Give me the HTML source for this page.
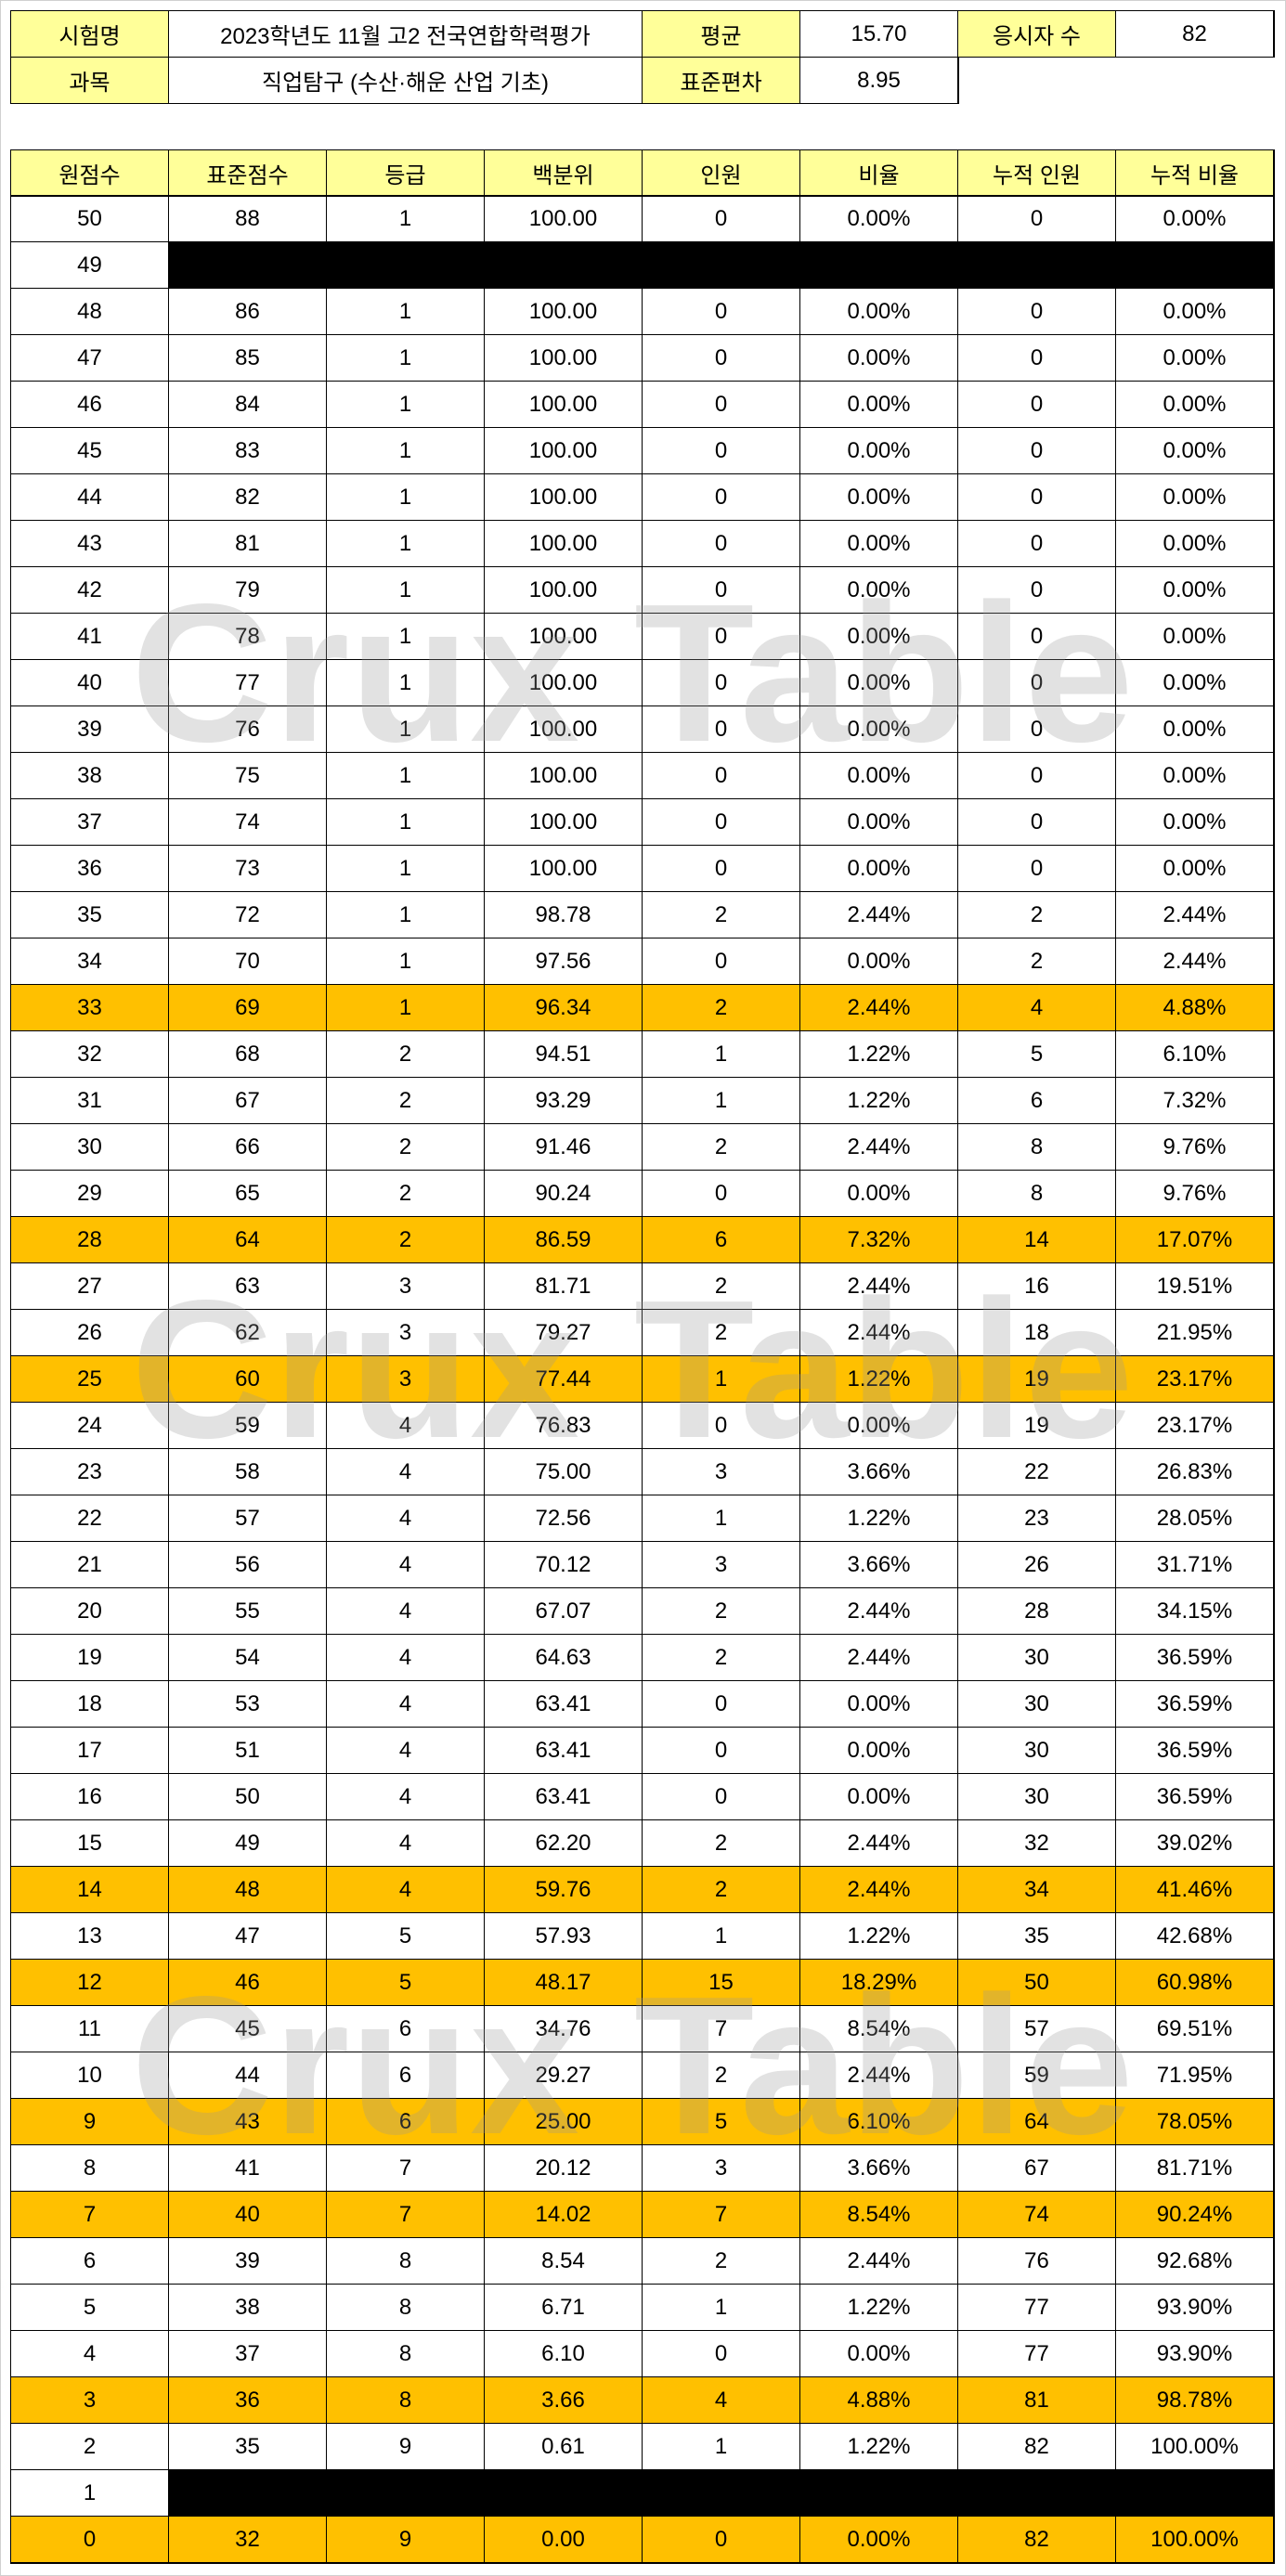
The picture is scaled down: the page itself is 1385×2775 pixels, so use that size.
<!DOCTYPE html>
<html><head><meta charset="utf-8">
<style>
html,body{margin:0;padding:0}
body{width:1385px;height:2775px;position:relative;background:#fff;font-family:"Liberation Sans","Noto Sans CJK KR",sans-serif;overflow:hidden}
#frame{position:absolute;left:0;top:0;width:1383px;height:2773px;border:1px solid #d0d0d0}
.c{position:absolute;box-sizing:border-box;border-right:1px solid #000;border-bottom:1px solid #000;display:flex;align-items:center;justify-content:center;font-size:24px;color:#000}
.y{background:#ffff99}
.o{background:#ffc000}
.k{background:#000}
.box{position:absolute;border:1px solid #000;box-sizing:border-box;pointer-events:none}
.wm{position:absolute;left:141px;font-family:"Liberation Sans",sans-serif;font-weight:bold;font-size:212px;line-height:1;color:rgba(150,150,150,0.28);pointer-events:none;white-space:nowrap}
</style></head>
<body>
<div id="frame"></div>
<div id="info"></div>
<div id="main"></div>
<div class="wm" style="top:619px">Crux Table</div>
<div class="wm" style="top:1369px">Crux Table</div>
<div class="wm" style="top:2119px">Crux Table</div>
<script>
const headers=["원점수","표준점수","등급","백분위","인원","비율","누적 인원","누적 비율"];
const rawScores=[50,49,48,47,46,45,44,43,42,41,40,39,38,37,36,35,34,33,32,31,30,29,28,27,26,25,24,23,22,21,20,19,18,17,16,15,14,13,12,11,10,9,8,7,6,5,4,3,2,1,0];
const stdScores=[88,null,86,85,84,83,82,81,79,78,77,76,75,74,73,72,70,69,68,67,66,65,64,63,62,60,59,58,57,56,55,54,53,51,50,49,48,47,46,45,44,43,41,40,39,38,37,36,35,null,32];
const grades=[1,null,1,1,1,1,1,1,1,1,1,1,1,1,1,1,1,1,2,2,2,2,2,3,3,3,4,4,4,4,4,4,4,4,4,4,4,5,5,6,6,6,7,7,8,8,8,8,9,null,9];
const percentiles=["100.00",null,"100.00","100.00","100.00","100.00","100.00","100.00","100.00","100.00","100.00","100.00","100.00","100.00","100.00","98.78","97.56","96.34","94.51","93.29","91.46","90.24","86.59","81.71","79.27","77.44","76.83","75.00","72.56","70.12","67.07","64.63","63.41","63.41","63.41","62.20","59.76","57.93","48.17","34.76","29.27","25.00","20.12","14.02","8.54","6.71","6.10","3.66","0.61",null,"0.00"];
const counts=[0,null,0,0,0,0,0,0,0,0,0,0,0,0,0,2,0,2,1,1,2,0,6,2,2,1,0,3,1,3,2,2,0,0,0,2,2,1,15,7,2,5,3,7,2,1,0,4,1,null,0];
const ratios=["0.00%",null,"0.00%","0.00%","0.00%","0.00%","0.00%","0.00%","0.00%","0.00%","0.00%","0.00%","0.00%","0.00%","0.00%","2.44%","0.00%","2.44%","1.22%","1.22%","2.44%","0.00%","7.32%","2.44%","2.44%","1.22%","0.00%","3.66%","1.22%","3.66%","2.44%","2.44%","0.00%","0.00%","0.00%","2.44%","2.44%","1.22%","18.29%","8.54%","2.44%","6.10%","3.66%","8.54%","2.44%","1.22%","0.00%","4.88%","1.22%",null,"0.00%"];
const cumCounts=[0,null,0,0,0,0,0,0,0,0,0,0,0,0,0,2,2,4,5,6,8,8,14,16,18,19,19,22,23,26,28,30,30,30,30,32,34,35,50,57,59,64,67,74,76,77,77,81,82,null,82];
const cumRatios=["0.00%",null,"0.00%","0.00%","0.00%","0.00%","0.00%","0.00%","0.00%","0.00%","0.00%","0.00%","0.00%","0.00%","0.00%","2.44%","2.44%","4.88%","6.10%","7.32%","9.76%","9.76%","17.07%","19.51%","21.95%","23.17%","23.17%","26.83%","28.05%","31.71%","34.15%","36.59%","36.59%","36.59%","36.59%","39.02%","41.46%","42.68%","60.98%","69.51%","71.95%","78.05%","81.71%","90.24%","92.68%","93.90%","93.90%","98.78%","100.00%",null,"100.00%"];
const highlighted=[33,28,25,14,12,9,7,3,0];

const X0=12,CW=170,ROWH=50,TOP=211;
function cell(parent,x,y,w,h,text,cls){
  const d=document.createElement('div');
  d.className='c '+(cls||'');
  d.style.left=x+'px';d.style.top=y+'px';d.style.width=w+'px';d.style.height=h+'px';
  d.textContent=text;
  parent.appendChild(d);
  return d;
}
const info=document.getElementById('info');
let e;
e=cell(info,12,12,170,50,'시험명','y');


e=cell(info,182,12,510,50,'2023학년도 11월 고2 전국연합학력평가','');


e=cell(info,692,12,170,50,'평균','y');


e=cell(info,862,12,170,50,'15.70','');


e=cell(info,1032,12,170,50,'응시자 수','y');


e=cell(info,1202,12,170,50,'82','');


e=cell(info,12,62,170,50,'과목','y');


e=cell(info,182,62,510,50,'직업탐구 (수산·해운 산업 기초)','');


e=cell(info,692,62,170,50,'표준편차','y');


e=cell(info,862,62,170,50,'8.95','');


[[11,11,1362,51],[11,61,1022,51]].forEach(b=>{const d=document.createElement('div');d.className='box';d.style.left=b[0]+'px';d.style.top=b[1]+'px';d.style.width=b[2]+'px';d.style.height=b[3]+'px';info.appendChild(d);});

const main=document.getElementById('main');
headers.forEach((h,i)=>{
  const d=cell(main,X0+i*CW,162,CW,49,h,'y');
  
  
});
rawScores.forEach((r,i)=>{
  const y=TOP+i*ROWH;
  const cls=highlighted.includes(r)?'o':'';
  const c0=cell(main,X0,y,CW,ROWH,String(r),cls);
  
  
  if(stdScores[i]===null){
    const b=cell(main,X0+CW,y,CW*7,ROWH,'','k');
    
    
    return;
  }
  const vals=[stdScores[i],grades[i],percentiles[i],counts[i],ratios[i],cumCounts[i],cumRatios[i]];
  vals.forEach((v,j)=>{
    const c=cell(main,X0+(j+1)*CW,y,CW,ROWH,String(v),cls);
    
    
  });
});
const ob=document.createElement('div');ob.className='box';
ob.style.left='11px';ob.style.top='161px';ob.style.width='1362px';ob.style.height=(TOP+rawScores.length*ROWH-161+1)+'px';
main.appendChild(ob);
const hb=document.createElement('div');hb.className='box';
hb.style.left='11px';hb.style.top='161px';hb.style.width='1362px';hb.style.height='51px';
main.appendChild(hb);
</script>
</body></html>
